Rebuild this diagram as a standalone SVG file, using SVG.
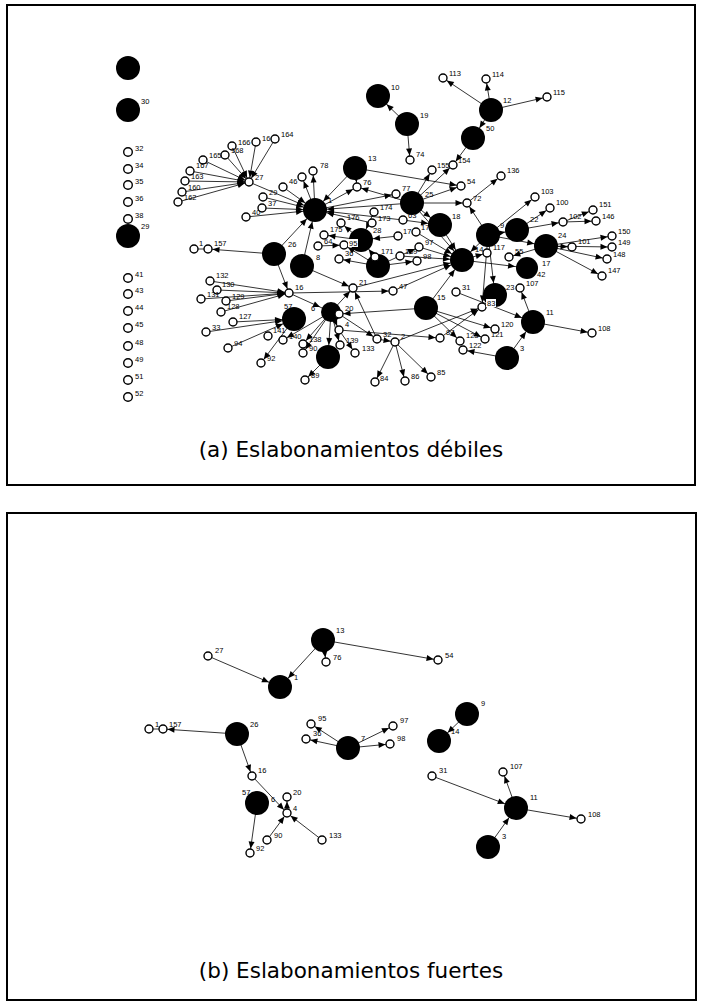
<svg xmlns="http://www.w3.org/2000/svg" width="701" height="1008" viewBox="0 0 701 1008">
<style>
.fr{fill:none;stroke:#000;stroke-width:2}
.b{fill:#000}
.s{fill:#fff;stroke:#000;stroke-width:1.4}
.l{font-family:"Liberation Sans",Arial,sans-serif;font-size:7.5px;fill:#000}
.e{stroke:#000;stroke-width:0.8;fill:none}
.cap{font-family:"DejaVu Sans",Verdana,sans-serif;font-size:21.5px;fill:#000;text-anchor:middle}
.bx{fill:#fff}
</style>
<defs>
<marker id="as" markerUnits="userSpaceOnUse" markerWidth="8" markerHeight="7" refX="11.5" refY="3" orient="auto" overflow="visible"><path d="M0,0 L7,3 L0,6z"/></marker>
<marker id="ab" markerUnits="userSpaceOnUse" markerWidth="8" markerHeight="7" refX="19" refY="3" orient="auto" overflow="visible"><path d="M0,0 L7,3 L0,6z"/></marker>
</defs>
<rect class="fr" x="7" y="5" width="688" height="480"/>
<rect class="fr" x="7" y="513" width="689" height="487"/>
<g id="connectors">
<line class="e" x1="203" y1="160" x2="249" y2="182" marker-end="url(#as)"/>
<line class="e" x1="190" y1="171" x2="249" y2="182" marker-end="url(#as)"/>
<line class="e" x1="185" y1="181" x2="249" y2="182" marker-end="url(#as)"/>
<line class="e" x1="182" y1="192" x2="249" y2="182" marker-end="url(#as)"/>
<line class="e" x1="178" y1="202" x2="249" y2="182" marker-end="url(#as)"/>
<line class="e" x1="232" y1="146" x2="249" y2="182" marker-end="url(#as)"/>
<line class="e" x1="225" y1="155" x2="249" y2="182" marker-end="url(#as)"/>
<line class="e" x1="256" y1="142" x2="249" y2="182" marker-end="url(#as)"/>
<line class="e" x1="275" y1="139" x2="249" y2="182" marker-end="url(#as)"/>
<line class="e" x1="249" y1="182" x2="315" y2="210" marker-end="url(#ab)"/>
<line class="e" x1="263" y1="197" x2="315" y2="210" marker-end="url(#ab)"/>
<line class="e" x1="262" y1="208" x2="315" y2="210" marker-end="url(#ab)"/>
<line class="e" x1="246" y1="217" x2="315" y2="210" marker-end="url(#ab)"/>
<line class="e" x1="283" y1="187" x2="315" y2="210" marker-end="url(#ab)"/>
<line class="e" x1="315" y1="210" x2="302" y2="177" marker-end="url(#as)"/>
<line class="e" x1="315" y1="210" x2="313" y2="171" marker-end="url(#as)"/>
<line class="e" x1="355" y1="168" x2="315" y2="210" marker-end="url(#ab)"/>
<line class="e" x1="315" y1="210" x2="357" y2="187" marker-end="url(#as)"/>
<line class="e" x1="355" y1="168" x2="357" y2="187" marker-end="url(#as)"/>
<line class="e" x1="412" y1="203" x2="357" y2="187" marker-end="url(#as)"/>
<line class="e" x1="355" y1="168" x2="461" y2="186" marker-end="url(#as)"/>
<line class="e" x1="315" y1="210" x2="396" y2="194" marker-end="url(#as)"/>
<line class="e" x1="412" y1="203" x2="315" y2="210" marker-end="url(#ab)"/>
<line class="e" x1="403" y1="220" x2="315" y2="210" marker-end="url(#ab)"/>
<line class="e" x1="372" y1="223" x2="315" y2="210" marker-end="url(#ab)"/>
<line class="e" x1="407" y1="124" x2="378" y2="96" marker-end="url(#ab)"/>
<line class="e" x1="407" y1="124" x2="410" y2="160" marker-end="url(#as)"/>
<line class="e" x1="412" y1="203" x2="432" y2="170" marker-end="url(#as)"/>
<line class="e" x1="412" y1="203" x2="453" y2="165" marker-end="url(#as)"/>
<line class="e" x1="491" y1="110" x2="443" y2="78" marker-end="url(#as)"/>
<line class="e" x1="491" y1="110" x2="486" y2="79" marker-end="url(#as)"/>
<line class="e" x1="491" y1="110" x2="547" y2="97" marker-end="url(#as)"/>
<line class="e" x1="491" y1="110" x2="473" y2="138" marker-end="url(#ab)"/>
<line class="e" x1="473" y1="138" x2="453" y2="165" marker-end="url(#as)"/>
<line class="e" x1="412" y1="203" x2="461" y2="186" marker-end="url(#as)"/>
<line class="e" x1="412" y1="203" x2="467" y2="203" marker-end="url(#as)"/>
<line class="e" x1="488" y1="235" x2="467" y2="203" marker-end="url(#as)"/>
<line class="e" x1="467" y1="203" x2="501" y2="176" marker-end="url(#as)"/>
<line class="e" x1="412" y1="203" x2="440" y2="225" marker-end="url(#ab)"/>
<line class="e" x1="403" y1="220" x2="440" y2="225" marker-end="url(#ab)"/>
<line class="e" x1="412" y1="203" x2="462" y2="260" marker-end="url(#ab)"/>
<line class="e" x1="440" y1="225" x2="462" y2="260" marker-end="url(#ab)"/>
<line class="e" x1="416" y1="232" x2="462" y2="260" marker-end="url(#ab)"/>
<line class="e" x1="488" y1="235" x2="462" y2="260" marker-end="url(#ab)"/>
<line class="e" x1="488" y1="235" x2="535" y2="197" marker-end="url(#as)"/>
<line class="e" x1="488" y1="235" x2="517" y2="230" marker-end="url(#ab)"/>
<line class="e" x1="517" y1="230" x2="550" y2="208" marker-end="url(#as)"/>
<line class="e" x1="517" y1="230" x2="563" y2="222" marker-end="url(#as)"/>
<line class="e" x1="563" y1="222" x2="593" y2="210" marker-end="url(#as)"/>
<line class="e" x1="563" y1="222" x2="596" y2="221" marker-end="url(#as)"/>
<line class="e" x1="488" y1="235" x2="546" y2="246" marker-end="url(#ab)"/>
<line class="e" x1="546" y1="246" x2="572" y2="247" marker-end="url(#as)"/>
<line class="e" x1="546" y1="246" x2="612" y2="236" marker-end="url(#as)"/>
<line class="e" x1="546" y1="246" x2="612" y2="247" marker-end="url(#as)"/>
<line class="e" x1="546" y1="246" x2="607" y2="259" marker-end="url(#as)"/>
<line class="e" x1="546" y1="246" x2="602" y2="276" marker-end="url(#as)"/>
<line class="e" x1="546" y1="246" x2="509" y2="257" marker-end="url(#as)"/>
<line class="e" x1="462" y1="260" x2="487" y2="253" marker-end="url(#as)"/>
<line class="e" x1="462" y1="260" x2="527" y2="268" marker-end="url(#ab)"/>
<line class="e" x1="419" y1="247" x2="462" y2="260" marker-end="url(#ab)"/>
<line class="e" x1="400" y1="256" x2="462" y2="260" marker-end="url(#ab)"/>
<line class="e" x1="361" y1="240" x2="341" y2="223" marker-end="url(#as)"/>
<line class="e" x1="361" y1="240" x2="324" y2="235" marker-end="url(#as)"/>
<line class="e" x1="378" y1="266" x2="344" y2="245" marker-end="url(#as)"/>
<line class="e" x1="318" y1="246" x2="344" y2="245" marker-end="url(#as)"/>
<line class="e" x1="378" y1="266" x2="339" y2="259" marker-end="url(#as)"/>
<line class="e" x1="398" y1="236" x2="361" y2="240" marker-end="url(#ab)"/>
<line class="e" x1="375" y1="257" x2="361" y2="240" marker-end="url(#ab)"/>
<line class="e" x1="374" y1="212" x2="361" y2="240" marker-end="url(#ab)"/>
<line class="e" x1="378" y1="266" x2="419" y2="247" marker-end="url(#as)"/>
<line class="e" x1="378" y1="266" x2="417" y2="261" marker-end="url(#as)"/>
<line class="e" x1="274" y1="254" x2="208" y2="249" marker-end="url(#as)"/>
<line class="e" x1="194" y1="249" x2="208" y2="249"/>
<line class="e" x1="274" y1="254" x2="315" y2="210" marker-end="url(#ab)"/>
<line class="e" x1="274" y1="254" x2="289" y2="293" marker-end="url(#as)"/>
<line class="e" x1="302" y1="266" x2="315" y2="210" marker-end="url(#ab)"/>
<line class="e" x1="302" y1="266" x2="353" y2="288" marker-end="url(#as)"/>
<line class="e" x1="210" y1="281" x2="289" y2="293" marker-end="url(#as)"/>
<line class="e" x1="217" y1="290" x2="289" y2="293" marker-end="url(#as)"/>
<line class="e" x1="201" y1="299" x2="289" y2="293" marker-end="url(#as)"/>
<line class="e" x1="226" y1="301" x2="289" y2="293" marker-end="url(#as)"/>
<line class="e" x1="221" y1="312" x2="289" y2="293" marker-end="url(#as)"/>
<line class="e" x1="233" y1="322" x2="294" y2="319" marker-end="url(#ab)"/>
<line class="e" x1="206" y1="332" x2="294" y2="319" marker-end="url(#ab)"/>
<line class="e" x1="228" y1="348" x2="294" y2="319" marker-end="url(#ab)"/>
<line class="e" x1="294" y1="319" x2="261" y2="363" marker-end="url(#as)"/>
<line class="e" x1="331" y1="312" x2="283" y2="340" marker-end="url(#as)"/>
<line class="e" x1="289" y1="293" x2="393" y2="291" marker-end="url(#as)"/>
<line class="e" x1="289" y1="293" x2="331" y2="312" marker-end="url(#ab)"/>
<line class="e" x1="331" y1="312" x2="353" y2="288" marker-end="url(#as)"/>
<line class="e" x1="426" y1="308" x2="339" y2="314" marker-end="url(#as)"/>
<line class="e" x1="331" y1="312" x2="303" y2="344" marker-end="url(#as)"/>
<line class="e" x1="331" y1="312" x2="303" y2="353" marker-end="url(#as)"/>
<line class="e" x1="331" y1="312" x2="340" y2="345" marker-end="url(#as)"/>
<line class="e" x1="331" y1="312" x2="339" y2="330" marker-end="url(#as)"/>
<line class="e" x1="339" y1="330" x2="355" y2="353" marker-end="url(#as)"/>
<line class="e" x1="331" y1="312" x2="328" y2="357" marker-end="url(#ab)"/>
<line class="e" x1="328" y1="357" x2="305" y2="380" marker-end="url(#as)"/>
<line class="e" x1="339" y1="314" x2="377" y2="339" marker-end="url(#as)"/>
<line class="e" x1="377" y1="339" x2="353" y2="288" marker-end="url(#as)"/>
<line class="e" x1="395" y1="342" x2="375" y2="382" marker-end="url(#as)"/>
<line class="e" x1="395" y1="342" x2="405" y2="381" marker-end="url(#as)"/>
<line class="e" x1="395" y1="342" x2="431" y2="377" marker-end="url(#as)"/>
<line class="e" x1="377" y1="339" x2="395" y2="342" marker-end="url(#as)"/>
<line class="e" x1="339" y1="330" x2="440" y2="338" marker-end="url(#as)"/>
<line class="e" x1="395" y1="342" x2="482" y2="307" marker-end="url(#as)"/>
<line class="e" x1="440" y1="338" x2="482" y2="307" marker-end="url(#as)"/>
<line class="e" x1="393" y1="291" x2="462" y2="260" marker-end="url(#ab)"/>
<line class="e" x1="353" y1="288" x2="462" y2="260" marker-end="url(#ab)"/>
<line class="e" x1="426" y1="308" x2="462" y2="260" marker-end="url(#ab)"/>
<line class="e" x1="426" y1="308" x2="485" y2="339" marker-end="url(#as)"/>
<line class="e" x1="426" y1="308" x2="495" y2="329" marker-end="url(#as)"/>
<line class="e" x1="426" y1="308" x2="460" y2="341" marker-end="url(#as)"/>
<line class="e" x1="488" y1="235" x2="482" y2="307" marker-end="url(#as)"/>
<line class="e" x1="456" y1="292" x2="533" y2="322" marker-end="url(#ab)"/>
<line class="e" x1="533" y1="322" x2="520" y2="288" marker-end="url(#as)"/>
<line class="e" x1="533" y1="322" x2="592" y2="333" marker-end="url(#as)"/>
<line class="e" x1="507" y1="358" x2="533" y2="322" marker-end="url(#ab)"/>
<line class="e" x1="507" y1="358" x2="463" y2="350" marker-end="url(#as)"/>
<line class="e" x1="488" y1="235" x2="495" y2="295" marker-end="url(#ab)"/>
<line class="e" x1="208" y1="656" x2="280" y2="687" marker-end="url(#ab)"/>
<line class="e" x1="323" y1="640" x2="280" y2="687" marker-end="url(#ab)"/>
<line class="e" x1="323" y1="640" x2="326" y2="662" marker-end="url(#as)"/>
<line class="e" x1="323" y1="640" x2="438" y2="660" marker-end="url(#as)"/>
<line class="e" x1="237" y1="734" x2="163" y2="729" marker-end="url(#as)"/>
<line class="e" x1="149" y1="729" x2="163" y2="729"/>
<line class="e" x1="237" y1="734" x2="252" y2="776" marker-end="url(#as)"/>
<line class="e" x1="252" y1="776" x2="287" y2="813" marker-end="url(#as)"/>
<line class="e" x1="257" y1="803" x2="250" y2="853" marker-end="url(#as)"/>
<line class="e" x1="267" y1="840" x2="287" y2="813" marker-end="url(#as)"/>
<line class="e" x1="322" y1="840" x2="287" y2="813" marker-end="url(#as)"/>
<line class="e" x1="287" y1="813" x2="287" y2="797" marker-end="url(#as)"/>
<line class="e" x1="348" y1="748" x2="311" y2="724" marker-end="url(#as)"/>
<line class="e" x1="348" y1="748" x2="306" y2="739" marker-end="url(#as)"/>
<line class="e" x1="348" y1="748" x2="393" y2="726" marker-end="url(#as)"/>
<line class="e" x1="348" y1="748" x2="390" y2="744" marker-end="url(#as)"/>
<line class="e" x1="467" y1="714" x2="439" y2="741" marker-end="url(#ab)"/>
<line class="e" x1="432" y1="776" x2="516" y2="808" marker-end="url(#ab)"/>
<line class="e" x1="516" y1="808" x2="503" y2="772" marker-end="url(#as)"/>
<line class="e" x1="516" y1="808" x2="581" y2="819" marker-end="url(#as)"/>
<line class="e" x1="488" y1="847" x2="516" y2="808" marker-end="url(#ab)"/>
</g>
<g id="nodes-top">
<g id="n0"><circle class="b" cx="128" cy="68" r="12"/></g>
<g id="n30"><circle class="b" cx="128" cy="110" r="12"/><text class="l" x="141" y="104">30</text></g>
<g id="n32"><circle class="s" cx="128" cy="152" r="4.3"/><text class="l" x="135" y="151">32</text></g>
<g id="n34"><circle class="s" cx="128" cy="169" r="4.3"/><text class="l" x="135" y="168">34</text></g>
<g id="n35"><circle class="s" cx="128" cy="185" r="4.3"/><text class="l" x="135" y="184">35</text></g>
<g id="n36a"><circle class="s" cx="128" cy="202" r="4.3"/><text class="l" x="135" y="201">36</text></g>
<g id="n38"><circle class="s" cx="128" cy="219" r="4.3"/><text class="l" x="135" y="218">38</text></g>
<g id="n29a"><circle class="b" cx="128" cy="236" r="12"/><text class="l" x="141" y="229">29</text></g>
<g id="n41"><circle class="s" cx="128" cy="278" r="4.3"/><text class="l" x="135" y="277">41</text></g>
<g id="n43"><circle class="s" cx="128" cy="294" r="4.3"/><text class="l" x="135" y="293">43</text></g>
<g id="n44"><circle class="s" cx="128" cy="311" r="4.3"/><text class="l" x="135" y="310">44</text></g>
<g id="n45"><circle class="s" cx="128" cy="328" r="4.3"/><text class="l" x="135" y="327">45</text></g>
<g id="n48"><circle class="s" cx="128" cy="346" r="4.3"/><text class="l" x="135" y="345">48</text></g>
<g id="n49"><circle class="s" cx="128" cy="363" r="4.3"/><text class="l" x="135" y="362">49</text></g>
<g id="n51"><circle class="s" cx="128" cy="380" r="4.3"/><text class="l" x="135" y="379">51</text></g>
<g id="n52"><circle class="s" cx="128" cy="397" r="4.3"/><text class="l" x="135" y="396">52</text></g>
<g id="n166"><circle class="s" cx="232" cy="146" r="4"/><text class="l" x="238" y="145">166</text></g>
<g id="n168"><circle class="s" cx="225" cy="155" r="4"/><text class="l" x="231" y="153">168</text></g>
<g id="n16x"><circle class="s" cx="256" cy="142" r="4"/><text class="l" x="262" y="141">16</text></g>
<g id="n164"><circle class="s" cx="275" cy="139" r="4"/><text class="l" x="281" y="137">164</text></g>
<g id="n165"><circle class="s" cx="203" cy="160" r="4"/><text class="l" x="209" y="158">165</text></g>
<g id="n167"><circle class="s" cx="190" cy="171" r="4"/><text class="l" x="196" y="168">167</text></g>
<g id="n163"><circle class="s" cx="185" cy="181" r="4"/><text class="l" x="191" y="179">163</text></g>
<g id="n160"><circle class="s" cx="182" cy="192" r="4"/><text class="l" x="188" y="190">160</text></g>
<g id="n162"><circle class="s" cx="178" cy="202" r="4"/><text class="l" x="184" y="200">162</text></g>
<g id="n27"><circle class="s" cx="249" cy="182" r="4"/><text class="l" x="255" y="180">27</text></g>
<g id="n29"><circle class="s" cx="263" cy="197" r="4"/><text class="l" x="269" y="195">29</text></g>
<g id="n37"><circle class="s" cx="262" cy="208" r="4"/><text class="l" x="268" y="206">37</text></g>
<g id="n40"><circle class="s" cx="246" cy="217" r="4"/><text class="l" x="252" y="215">40</text></g>
<g id="n1x"><circle class="s" cx="194" cy="249" r="4"/><text class="l" x="199" y="246">1</text></g>
<g id="n157"><circle class="s" cx="208" cy="249" r="4"/><text class="l" x="214" y="246">157</text></g>
<g id="n46"><circle class="s" cx="283" cy="187" r="4"/><text class="l" x="289" y="184">46</text></g>
<g id="nX"><circle class="s" cx="302" cy="177" r="4"/></g>
<g id="n78"><circle class="s" cx="313" cy="171" r="4"/><text class="l" x="320" y="168">78</text></g>
<g id="n76"><circle class="s" cx="357" cy="187" r="4"/><text class="l" x="363" y="185">76</text></g>
<g id="n77"><circle class="s" cx="396" cy="194" r="4"/><text class="l" x="402" y="191">77</text></g>
<g id="n74"><circle class="s" cx="410" cy="160" r="4"/><text class="l" x="416" y="157">74</text></g>
<g id="n155"><circle class="s" cx="432" cy="170" r="4"/><text class="l" x="437" y="168">155</text></g>
<g id="n154"><circle class="s" cx="453" cy="165" r="4"/><text class="l" x="458" y="163">154</text></g>
<g id="n54"><circle class="s" cx="461" cy="186" r="4"/><text class="l" x="467" y="184">54</text></g>
<g id="n72"><circle class="s" cx="467" cy="203" r="4"/><text class="l" x="473" y="201">72</text></g>
<g id="n136"><circle class="s" cx="501" cy="176" r="4"/><text class="l" x="507" y="173">136</text></g>
<g id="n113"><circle class="s" cx="443" cy="78" r="4"/><text class="l" x="449" y="76">113</text></g>
<g id="n114"><circle class="s" cx="486" cy="79" r="4"/><text class="l" x="492" y="77">114</text></g>
<g id="n115"><circle class="s" cx="547" cy="97" r="4"/><text class="l" x="553" y="95">115</text></g>
<g id="n10"><circle class="b" cx="378" cy="96" r="12"/><text class="l" x="391" y="90">10</text></g>
<g id="n19"><circle class="b" cx="407" cy="124" r="12"/><text class="l" x="420" y="118">19</text></g>
<g id="n12"><circle class="b" cx="491" cy="110" r="12"/><text class="l" x="503" y="103">12</text></g>
<g id="n50"><circle class="b" cx="473" cy="138" r="12"/><text class="l" x="486" y="131">50</text></g>
<g id="n13"><circle class="b" cx="355" cy="168" r="12"/><text class="l" x="368" y="161">13</text></g>
<g id="n1"><circle class="b" cx="315" cy="210" r="12"/><text class="l" x="328" y="203">1</text></g>
<g id="n25"><circle class="b" cx="412" cy="203" r="12"/><text class="l" x="425" y="197">25</text></g>
<g id="n18"><circle class="b" cx="440" cy="225" r="12"/><text class="l" x="452" y="219">18</text></g>
<g id="n9"><circle class="b" cx="488" cy="235" r="12"/><text class="l" x="500" y="228">9</text></g>
<g id="n22"><circle class="b" cx="517" cy="230" r="12"/><text class="l" x="530" y="222">22</text></g>
<g id="n17"><circle class="b" cx="546" cy="246" r="12"/><text class="l" x="542" y="266">17</text></g>
<g id="n24"><text class="l" x="558" y="238">24</text></g>
<g id="n14"><circle class="b" cx="462" cy="260" r="12"/><text class="l" x="475" y="252">14</text></g>
<g id="n174"><circle class="s" cx="374" cy="212" r="4"/><text class="l" x="380" y="210">174</text></g>
<g id="n173"><circle class="s" cx="372" cy="223" r="4"/><text class="l" x="378" y="221">173</text></g>
<g id="n63"><circle class="s" cx="403" cy="220" r="4"/><text class="l" x="408" y="218">63</text></g>
<g id="n172"><circle class="s" cx="416" cy="232" r="4"/><text class="l" x="421" y="230">172</text></g>
<g id="n17x"><circle class="s" cx="398" cy="236" r="4"/><text class="l" x="403" y="234">17</text></g>
<g id="n97"><circle class="s" cx="419" cy="247" r="4"/><text class="l" x="425" y="245">97</text></g>
<g id="n169"><circle class="s" cx="400" cy="256" r="4"/><text class="l" x="405" y="254">169</text></g>
<g id="n98"><circle class="s" cx="417" cy="261" r="4"/><text class="l" x="423" y="259">98</text></g>
<g id="n176"><circle class="s" cx="341" cy="223" r="4"/><text class="l" x="347" y="220">176</text></g>
<g id="n175"><circle class="s" cx="324" cy="235" r="4"/><text class="l" x="330" y="232">175</text></g>
<g id="n64"><circle class="s" cx="318" cy="246" r="4"/><text class="l" x="324" y="244">64</text></g>
<g id="n28"><circle class="b" cx="361" cy="240" r="12"/><text class="l" x="373" y="233">28</text></g>
<g id="n95"><circle class="s" cx="344" cy="245" r="4"/><rect class="bx" x="348" y="239" width="10" height="8"/><text class="l" x="349" y="245.5">95</text></g>
<g id="n36"><circle class="s" cx="339" cy="259" r="4"/><text class="l" x="345" y="256">36</text></g>
<g id="n7"><circle class="b" cx="378" cy="266" r="12"/></g>
<g id="n171"><circle class="s" cx="375" cy="257" r="4"/><text class="l" x="381" y="254">171</text></g>
<g id="n103"><circle class="s" cx="535" cy="197" r="4"/><text class="l" x="541" y="194">103</text></g>
<g id="n100"><circle class="s" cx="550" cy="208" r="4"/><text class="l" x="556" y="205">100</text></g>
<g id="n102"><circle class="s" cx="563" cy="222" r="4"/><text class="l" x="569" y="219">102</text></g>
<g id="n151"><circle class="s" cx="593" cy="210" r="4"/><text class="l" x="599" y="207">151</text></g>
<g id="n146"><circle class="s" cx="596" cy="221" r="4"/><text class="l" x="602" y="219">146</text></g>
<g id="n101"><circle class="s" cx="572" cy="247" r="4"/><text class="l" x="578" y="244">101</text></g>
<g id="n150"><circle class="s" cx="612" cy="236" r="4"/><text class="l" x="618" y="234">150</text></g>
<g id="n149"><circle class="s" cx="612" cy="247" r="4"/><text class="l" x="618" y="245">149</text></g>
<g id="n148"><circle class="s" cx="607" cy="259" r="4"/><text class="l" x="613" y="257">148</text></g>
<g id="n147"><circle class="s" cx="602" cy="276" r="4"/><text class="l" x="608" y="273">147</text></g>
<g id="n117"><circle class="s" cx="487" cy="253" r="4"/><text class="l" x="493" y="250">117</text></g>
<g id="n55"><circle class="s" cx="509" cy="257" r="4"/><text class="l" x="515" y="254">55</text></g>
<g id="n26"><circle class="b" cx="274" cy="254" r="12"/><text class="l" x="288" y="247">26</text></g>
<g id="n8"><circle class="b" cx="302" cy="266" r="12"/><text class="l" x="316" y="260">8</text></g>
<g id="n15"><circle class="b" cx="426" cy="308" r="12"/><text class="l" x="437" y="300">15</text></g>
<g id="n57"><circle class="b" cx="294" cy="319" r="12"/><text class="l" x="284" y="309">57</text></g>
<g id="n6"><circle class="b" cx="331" cy="312" r="10"/><text class="l" x="311" y="311">6</text></g>
<g id="nB"><circle class="b" cx="328" cy="357" r="12"/></g>
<g id="n23"><circle class="b" cx="495" cy="295" r="12"/><text class="l" x="506" y="290">23</text></g>
<g id="n42"><circle class="b" cx="527" cy="268" r="11"/><text class="l" x="537" y="277">42</text></g>
<g id="n11"><circle class="b" cx="533" cy="322" r="12"/><text class="l" x="546" y="315">11</text></g>
<g id="n3"><circle class="b" cx="507" cy="358" r="12"/><text class="l" x="520" y="351">3</text></g>
<g id="n16"><circle class="s" cx="289" cy="293" r="4"/><text class="l" x="295" y="290">16</text></g>
<g id="n21"><circle class="s" cx="353" cy="288" r="4"/><text class="l" x="359" y="285">21</text></g>
<g id="n47"><circle class="s" cx="393" cy="291" r="4"/><text class="l" x="399" y="289">47</text></g>
<g id="n20"><circle class="s" cx="339" cy="314" r="4"/><text class="l" x="345" y="311">20</text></g>
<g id="n4"><circle class="s" cx="339" cy="330" r="4"/><text class="l" x="345" y="327">4</text></g>
<g id="n139"><circle class="s" cx="340" cy="345" r="4"/><text class="l" x="346" y="343">139</text></g>
<g id="n133"><circle class="s" cx="355" cy="353" r="4"/><text class="l" x="362" y="351">133</text></g>
<g id="n138"><circle class="s" cx="303" cy="344" r="4"/><text class="l" x="309" y="342">138</text></g>
<g id="n90"><circle class="s" cx="303" cy="353" r="4"/><text class="l" x="309" y="351">90</text></g>
<g id="n141"><circle class="s" cx="268" cy="336" r="4"/><text class="l" x="273" y="333">141</text></g>
<g id="n140"><circle class="s" cx="283" cy="340" r="4"/><text class="l" x="289" y="339">140</text></g>
<g id="n92"><circle class="s" cx="261" cy="363" r="4"/><text class="l" x="267" y="361">92</text></g>
<g id="n89"><circle class="s" cx="305" cy="380" r="4"/><text class="l" x="311" y="378">89</text></g>
<g id="n32b"><circle class="s" cx="377" cy="339" r="4"/><text class="l" x="383" y="337">32</text></g>
<g id="n2"><circle class="s" cx="395" cy="342" r="4"/><text class="l" x="401" y="339">2</text></g>
<g id="n84"><circle class="s" cx="375" cy="382" r="4"/><text class="l" x="380" y="381">84</text></g>
<g id="n86"><circle class="s" cx="405" cy="381" r="4"/><text class="l" x="411" y="379">86</text></g>
<g id="n85"><circle class="s" cx="431" cy="377" r="4"/><text class="l" x="437" y="375">85</text></g>
<g id="n87"><circle class="s" cx="440" cy="338" r="4"/><text class="l" x="446" y="335">87</text></g>
<g id="n31"><circle class="s" cx="456" cy="292" r="4"/><text class="l" x="462" y="290">31</text></g>
<g id="n83"><circle class="s" cx="482" cy="307" r="4"/><rect class="bx" x="486" y="299" width="10" height="8"/><text class="l" x="487" y="305.5">83</text></g>
<g id="n107"><circle class="s" cx="520" cy="288" r="4"/><text class="l" x="526" y="286">107</text></g>
<g id="n108"><circle class="s" cx="592" cy="333" r="4"/><text class="l" x="598" y="331">108</text></g>
<g id="n120"><circle class="s" cx="495" cy="329" r="4"/><text class="l" x="501" y="327">120</text></g>
<g id="n121"><circle class="s" cx="485" cy="339" r="4"/><text class="l" x="491" y="337">121</text></g>
<g id="n123"><circle class="s" cx="460" cy="341" r="4"/><text class="l" x="466" y="338">123</text></g>
<g id="n122"><circle class="s" cx="463" cy="350" r="4"/><text class="l" x="469" y="348">122</text></g>
<g id="n132"><circle class="s" cx="210" cy="281" r="4"/><text class="l" x="216" y="278">132</text></g>
<g id="n130"><circle class="s" cx="217" cy="290" r="4"/><text class="l" x="222" y="287">130</text></g>
<g id="n131"><circle class="s" cx="201" cy="299" r="4"/><text class="l" x="207" y="297">131</text></g>
<g id="n129"><circle class="s" cx="226" cy="301" r="4"/><text class="l" x="232" y="299">129</text></g>
<g id="n128"><circle class="s" cx="221" cy="312" r="4"/><text class="l" x="227" y="309">128</text></g>
<g id="n127"><circle class="s" cx="233" cy="322" r="4"/><text class="l" x="239" y="319">127</text></g>
<g id="n33"><circle class="s" cx="206" cy="332" r="4"/><text class="l" x="212" y="330">33</text></g>
<g id="n94"><circle class="s" cx="228" cy="348" r="4"/><text class="l" x="234" y="346">94</text></g>
</g>
<g id="nodes-bottom">
<g id="b27"><circle class="s" cx="208" cy="656" r="4"/><text class="l" x="215" y="653">27</text></g>
<g id="b1"><circle class="b" cx="280" cy="687" r="12"/><text class="l" x="294" y="680">1</text></g>
<g id="b13"><circle class="b" cx="323" cy="640" r="12"/><text class="l" x="336" y="633">13</text></g>
<g id="b76"><circle class="s" cx="326" cy="662" r="4"/><text class="l" x="333" y="660">76</text></g>
<g id="b54"><circle class="s" cx="438" cy="660" r="4"/><text class="l" x="445" y="658">54</text></g>
<g id="b1x"><circle class="s" cx="149" cy="729" r="4"/><text class="l" x="155" y="727">1</text></g>
<g id="b157"><circle class="s" cx="163" cy="729" r="4"/><text class="l" x="169" y="727">157</text></g>
<g id="b26"><circle class="b" cx="237" cy="734" r="12"/><text class="l" x="250" y="727">26</text></g>
<g id="b95"><circle class="s" cx="311" cy="724" r="4"/><text class="l" x="318" y="721">95</text></g>
<g id="b36"><circle class="s" cx="306" cy="739" r="4"/><text class="l" x="313" y="736">36</text></g>
<g id="b7"><circle class="b" cx="348" cy="748" r="12"/><text class="l" x="361" y="741">7</text></g>
<g id="b97"><circle class="s" cx="393" cy="726" r="4"/><text class="l" x="400" y="723">97</text></g>
<g id="b98"><circle class="s" cx="390" cy="744" r="4"/><text class="l" x="397" y="741">98</text></g>
<g id="b9"><circle class="b" cx="467" cy="714" r="12"/><text class="l" x="481" y="706">9</text></g>
<g id="b14"><circle class="b" cx="439" cy="741" r="12"/><text class="l" x="451" y="734">14</text></g>
<g id="b31"><circle class="s" cx="432" cy="776" r="4"/><text class="l" x="439" y="773">31</text></g>
<g id="b107"><circle class="s" cx="503" cy="772" r="4"/><text class="l" x="510" y="769">107</text></g>
<g id="b11"><circle class="b" cx="516" cy="808" r="12"/><text class="l" x="530" y="800">11</text></g>
<g id="b108"><circle class="s" cx="581" cy="819" r="4"/><text class="l" x="588" y="817">108</text></g>
<g id="b3"><circle class="b" cx="488" cy="847" r="12"/><text class="l" x="502" y="839">3</text></g>
<g id="b16"><circle class="s" cx="252" cy="776" r="4"/><text class="l" x="258" y="773">16</text></g>
<g id="b57"><circle class="b" cx="257" cy="803" r="12"/><text class="l" x="242" y="795">57</text></g>
<g id="b6"><text class="l" x="271" y="802">6</text></g>
<g id="b20"><circle class="s" cx="287" cy="797" r="4"/><text class="l" x="293" y="795">20</text></g>
<g id="b4"><circle class="s" cx="287" cy="813" r="4"/><text class="l" x="293" y="811">4</text></g>
<g id="b90"><circle class="s" cx="267" cy="840" r="4"/><text class="l" x="274" y="838">90</text></g>
<g id="b133"><circle class="s" cx="322" cy="840" r="4"/><text class="l" x="329" y="838">133</text></g>
<g id="b92"><circle class="s" cx="250" cy="853" r="4"/><text class="l" x="256" y="851">92</text></g>
</g>
<text class="cap" x="351" y="457">(a) Eslabonamientos débiles</text>
<text class="cap" x="351" y="978">(b) Eslabonamientos fuertes</text>
</svg>
